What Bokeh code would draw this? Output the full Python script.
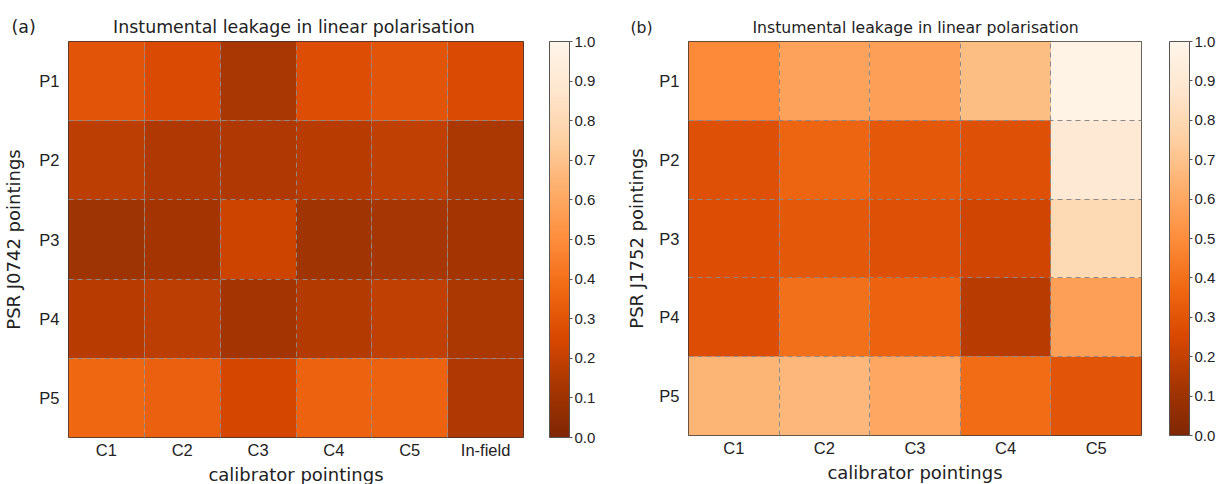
from bokeh.plotting import figure
from bokeh.models import (ColumnDataSource, LinearColorMapper, ColorBar, FixedTicker,
                          PrintfTickFormatter, Range1d)
from bokeh.layouts import row
from bokeh.embed import file_html
from bokeh.resources import INLINE

# ---------------- data ----------------
pointings = ["P1", "P2", "P3", "P4", "P5"]
calib_a = ["C1", "C2", "C3", "C4", "C5", "In-field"]
calib_b = ["C1", "C2", "C3", "C4", "C5"]

# PSR J0742 (panel a), rows P1..P5, columns C1..In-field
leak_a_P1 = [0.30, 0.26, 0.13, 0.27, 0.30, 0.26]
leak_a_P2 = [0.18, 0.15, 0.15, 0.17, 0.19, 0.14]
leak_a_P3 = [0.10, 0.12, 0.22, 0.11, 0.125, 0.12]
leak_a_P4 = [0.17, 0.18, 0.12, 0.16, 0.19, 0.14]
leak_a_P5 = [0.37, 0.34, 0.24, 0.35, 0.35, 0.15]

# PSR J1752 (panel b), rows P1..P5, columns C1..C5
leak_b_P1 = [0.49, 0.58, 0.57, 0.68, 0.98]
leak_b_P2 = [0.28, 0.36, 0.31, 0.28, 0.90]
leak_b_P3 = [0.27, 0.31, 0.28, 0.23, 0.80]
leak_b_P4 = [0.27, 0.40, 0.35, 0.17, 0.57]
leak_b_P5 = [0.65, 0.66, 0.60, 0.38, 0.30]

title_text = "Instumental leakage in linear polarisation"
cbar_ticks = [0.0, 0.1, 0.2, 0.3, 0.4, 0.5, 0.6, 0.7, 0.8, 0.9, 1.0]

# matplotlib "Oranges_r" anchor colours (dark -> light)
oranges_anchors = ['#7f2704', '#a63603', '#d94801', '#f16913', '#fd8d3c',
                   '#fdae6b', '#fdd0a2', '#fee6ce', '#fff5eb']


def interp_palette(anchors, n=256):
    rgb = [tuple(int(a[i:i + 2], 16) for i in (1, 3, 5)) for a in anchors]
    out = []
    segs = len(rgb) - 1
    for k in range(n):
        t = k / (n - 1) * segs
        i = min(int(t), segs - 1)
        f = t - i
        c = [round(rgb[i][j] + (rgb[i + 1][j] - rgb[i][j]) * f) for j in range(3)]
        out.append("#%02x%02x%02x" % tuple(c))
    return out


palette = interp_palette(oranges_anchors)

TICK_FONT = "Liberation Sans"
TEXT_FONT = "DejaVu Sans"
NBSP = "\u00a0"


def heatmap(rows, cols, values, ylabel, panel, title_size, width,
            b_left, b_right, b_top, frame_h, cbar_gap, ylabel_standoff,
            panel_x, n_gap):
    nr, nc = len(rows), len(cols)
    xs, ys, vs = [], [], []
    for i, r in enumerate(rows):
        for j, c in enumerate(cols):
            xs.append(j + 0.5)
            ys.append(nr - i - 0.5)
            vs.append(values[i][j])
    src = ColumnDataSource(dict(x=xs, y=ys, v=vs))
    mapper = LinearColorMapper(palette=palette, low=0, high=1)

    p = figure(width=width, height=484, frame_height=frame_h,
               x_range=Range1d(0, nc), y_range=Range1d(0, nr),
               output_backend="svg", toolbar_location=None,
               min_border_left=b_left, min_border_top=b_top,
               min_border_right=b_right, min_border_bottom=0,
               title=panel + NBSP * n_gap + title_text)
    p.rect(x="x", y="y", width=1, height=1, source=src,
           fill_color={"field": "v", "transform": mapper}, line_color=None)

    # panel letter and centred title share one title line
    p.title.align = "left"
    p.title.offset = panel_x - b_left
    p.title.text_font = TEXT_FONT
    p.title.text_font_size = title_size
    p.title.text_font_style = "normal"
    p.title.text_color = "#222222"
    p.title.standoff = 10

    p.xaxis.ticker = FixedTicker(ticks=[j + 0.5 for j in range(nc)])
    p.xaxis.major_label_overrides = {j + 0.5: c for j, c in enumerate(cols)}
    p.yaxis.ticker = FixedTicker(ticks=[nr - i - 0.5 for i in range(nr)])
    p.yaxis.major_label_overrides = {nr - i - 0.5: r for i, r in enumerate(rows)}
    p.xaxis.axis_label = "calibrator pointings"
    p.yaxis.axis_label = ylabel
    for ax in (p.xaxis, p.yaxis):
        ax.axis_line_color = None
        ax.major_tick_line_color = None
        ax.minor_tick_line_color = None
        ax.major_tick_out = 0
        ax.major_tick_in = 0
        ax.minor_tick_out = 0
        ax.minor_tick_in = 0
        ax.major_label_text_font = TICK_FONT
        ax.major_label_text_font_size = "16.5px"
        ax.major_label_text_color = "#222222"
        ax.axis_label_text_font = TEXT_FONT
        ax.axis_label_text_font_size = "18px"
        ax.axis_label_text_font_style = "normal"
        ax.axis_label_text_color = "#222222"
    p.xaxis.major_label_standoff = 3
    p.yaxis.major_label_standoff = 9
    p.xaxis.axis_label_standoff = 2
    p.yaxis.axis_label_standoff = ylabel_standoff

    p.xgrid.ticker = FixedTicker(ticks=list(range(1, nc)))
    p.ygrid.ticker = FixedTicker(ticks=list(range(1, nr)))
    for g in (p.xgrid, p.ygrid):
        g.grid_line_color = "#8a8a8a"
        g.grid_line_dash = "5 4"
        g.grid_line_width = 1
        g.level = "overlay"

    p.outline_line_color = "#333333"
    p.outline_line_width = 1
    p.background_fill_color = "white"
    p.border_fill_color = "white"

    cb = ColorBar(color_mapper=mapper, width=20, height=frame_h,
                  ticker=FixedTicker(ticks=cbar_ticks),
                  formatter=PrintfTickFormatter(format="%.1f"),
                  padding=0, margin=0, location=(cbar_gap, 0),
                  bar_line_color="#555555", bar_line_width=1,
                  major_tick_in=0, major_tick_out=3,
                  major_tick_line_color="#555555",
                  minor_tick_line_color=None,
                  label_standoff=2,
                  major_label_text_font=TICK_FONT,
                  major_label_text_font_size="15px",
                  major_label_text_color="#222222",
                  background_fill_alpha=0, border_line_alpha=0)
    p.add_layout(cb, "right")
    return p


pa = heatmap(pointings, calib_a,
             [leak_a_P1, leak_a_P2, leak_a_P3, leak_a_P4, leak_a_P5],
             "PSR J0742 pointings", "(a)", "17.4px", 610,
             66, 87, 41, 396, 26, 12, 9, 14)
pb = heatmap(pointings, calib_b,
             [leak_b_P1, leak_b_P2, leak_b_P3, leak_b_P4, leak_b_P5],
             "PSR J1752 pointings", "(b)", "15.7px", 612,
             78, 81, 40, 394, 28, 9, 20, 20)

layout = row(pa, pb)
open("out.html", "w").write(file_html(layout, INLINE))
